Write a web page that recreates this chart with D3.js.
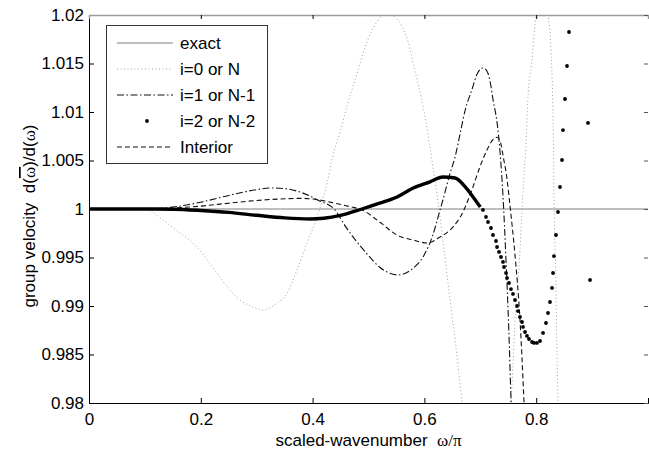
<!DOCTYPE html>
<html><head><meta charset="utf-8">
<script src="https://cdn.jsdelivr.net/npm/d3@7/dist/d3.min.js"></script>
<style>
body{margin:0;background:#fff}
svg{display:block}
text{font-family:"Liberation Sans",Arial,Helvetica,sans-serif;fill:#000}
.sym{font-family:"Liberation Serif","Times New Roman",serif}
.ovl{text-decoration:overline}
</style>
</head><body>
<svg id="chart" width="649" height="455"></svg>
<script>
// ---- data ----
const xTickValues = [0, 0.2, 0.4, 0.6, 0.8, 1];
const xTickLabels = ["0", "0.2", "0.4", "0.6", "0.8", ""];
const yTickValues = [0.98, 0.985, 0.99, 0.995, 1, 1.005, 1.01, 1.015, 1.02];
const yTickLabels = ["0.98", "0.985", "0.99", "0.995", "1", "1.005", "1.01", "1.015", "1.02"];
const legendLabels = ["exact", "i=0 or N", "i=1 or N-1", "i=2 or N-2", "Interior"];

const exactSeries = [[0, 1], [1, 1]];

const i0Series = [[0,1],[0.05,1],[0.09,0.99998],[0.11,0.9998],[0.127,0.9991],[0.163,0.9975],[0.193,0.9961],[0.216,0.9944],[0.247,0.9920],[0.270,0.9906],[0.293,0.9899],[0.311,0.98959],[0.336,0.9903],[0.354,0.9913],[0.372,0.9937],[0.390,0.9965],[0.408,0.9992],[0.426,1.0027],[0.436,1.0054],[0.449,1.0079],[0.462,1.0107],[0.478,1.0137],[0.494,1.0167],[0.515,1.0193],[0.535,1.0202],[0.547,1.0198],[0.560,1.0188],[0.571,1.0172],[0.583,1.0143],[0.594,1.0116],[0.603,1.0089],[0.610,1.0063],[0.624,1.0009],[0.635,0.9958],[0.646,0.9906],[0.657,0.9855],[0.667,0.9803],[0.68,0.975],[0.72,0.965],[0.75,0.975],[0.755,0.980],[0.7585,0.9841],[0.762,0.9882],[0.771,0.9958],[0.776,1.0014],[0.782,1.0071],[0.785,1.0112],[0.7925,1.0154],[0.798,1.0192],[0.803,1.0203],[0.812,1.0215],[0.821,1.0200],[0.8265,1.0164],[0.8295,1.0112],[0.8310,1.0061],[0.832,1.0009],[0.835,0.9927],[0.837,0.9858],[0.839,0.9800],[0.842,0.975]];

const i1Series = [[0,1],[0.1,1],[0.15,1.0002],[0.2,1.0007],[0.25,1.0014],[0.3,1.0020],[0.325,1.00217],[0.35,1.0021],[0.38,1.0017],[0.41,1.0009],[0.44,0.9999],[0.46,0.9981],[0.485,0.9962],[0.50,0.9952],[0.52,0.9940],[0.553,0.9932],[0.58,0.9939],[0.598,0.9951],[0.615,0.9973],[0.628,0.9999],[0.633,1.0009],[0.646,1.0037],[0.655,1.0054],[0.664,1.0078],[0.673,1.0102],[0.685,1.0123],[0.695,1.0140],[0.705,1.01454],[0.712,1.0142],[0.717,1.0133],[0.723,1.0112],[0.730,1.0089],[0.735,1.0061],[0.741,1.0009],[0.746,0.9947],[0.751,0.9875],[0.755,0.9803],[0.758,0.976]];

const interiorSeries = [[0,1],[0.1,1],[0.15,1.0001],[0.2,1.0003],[0.25,1.0006],[0.3,1.00088],[0.35,1.00105],[0.38,1.0011],[0.41,1.00095],[0.44,1.0006],[0.47,1.0002],[0.485,1.0],[0.52,0.99866],[0.551,0.99732],[0.58,0.9968],[0.605,0.9965],[0.628,0.99711],[0.651,0.99814],[0.669,0.99969],[0.678,1.0009],[0.687,1.0023],[0.699,1.0043],[0.712,1.0061],[0.722,1.0071],[0.730,1.0074],[0.736,1.0069],[0.741,1.0054],[0.748,1.0030],[0.753,1.0004],[0.762,0.9953],[0.771,0.9886],[0.778,0.9803],[0.781,0.976]];

// i=2 : densely sampled part (drawn as a heavy dotted trace)
const i2Dense = [[0,1],[0.05,1],[0.1,1],[0.15,0.99998],[0.2,0.99985],[0.25,0.99965],[0.3,0.99935],[0.35,0.99908],[0.395,0.99897],[0.42,0.99905],[0.45,0.99935],[0.488,1.0],[0.52,1.0006],[0.551,1.00124],[0.58,1.00216],[0.61,1.0028],[0.633,1.0033],[0.655,1.0032],[0.673,1.00227],[0.687,1.00124],[0.70,1.0002]];
// i=2 : individually visible samples
const i2Dots = [[0.7048,0.99990],[0.7102,0.99918],[0.7138,0.99866],[0.7191,0.99804],[0.7227,0.99732],[0.7281,0.99670],[0.7299,0.99608],[0.7335,0.99557],[0.7370,0.99505],[0.7406,0.99454],[0.7424,0.99402],[0.7460,0.99340],[0.7478,0.99289],[0.7513,0.99237],[0.7549,0.99175],[0.7585,0.99124],[0.7621,0.99062],[0.7657,0.99000],[0.7674,0.98948],[0.7710,0.98887],[0.7746,0.98835],[0.7764,0.98784],[0.7800,0.98732],[0.7835,0.98691],[0.7871,0.98660],[0.7925,0.98629],[0.7961,0.98619],[0.8014,0.98619],[0.8068,0.98639],[0.8122,0.98722],[0.8175,0.98825],[0.8211,0.98928],[0.8247,0.99041],[0.8283,0.99186],[0.8301,0.99340],[0.8318,0.99515],[0.8354,0.99732],[0.8390,0.99969],[0.8426,1.00227],[0.8462,1.00505],[0.8479,1.00814],[0.8515,1.01134],[0.8551,1.01474],[0.8587,1.01825],[0.8927,1.00887],[0.8963,0.99268]];

// ---- layout ----
const svg = d3.select("#chart");
const L = 89, R = 648, T = 15, B = 403;
const x = d3.scaleLinear().domain([0, 1]).range([L, R]);
const y = d3.scaleLinear().domain([0.98, 1.02]).range([B, T]);
const FS = 17;

svg.append("defs").append("clipPath").attr("id", "clip")
  .append("rect").attr("x", L).attr("y", T).attr("width", R - L).attr("height", B - T);

const plot = svg.append("g").attr("clip-path", "url(#clip)");
const line = d3.line().x(d => x(d[0])).y(d => y(d[1])).curve(d3.curveMonotoneX);

const styles = {
  exact:    {stroke: "#7f7f7f", width: 1, dash: null},
  i0:       {stroke: "#a0a0a0", width: 1, dash: "1,2.5"},
  i1:       {stroke: "#111", width: 1.1, dash: "7,2.5,1.5,2.5"},
  interior: {stroke: "#111", width: 1.1, dash: "5,3"}
};

function drawLine(data, st) {
  plot.append("path").datum(data).attr("d", line)
    .attr("fill", "none").attr("stroke", st.stroke).attr("stroke-width", st.width)
    .attr("stroke-dasharray", st.dash);
}
drawLine(exactSeries, styles.exact);
drawLine(i0Series, styles.i0);
drawLine(i1Series, styles.i1);
drawLine(interiorSeries, styles.interior);

plot.append("path").datum(i2Dense).attr("d", line)
  .attr("fill", "none").attr("stroke", "#000").attr("stroke-width", 3.4);
plot.selectAll("circle.i2").data(i2Dots).join("circle").attr("class", "i2")
  .attr("cx", d => x(d[0])).attr("cy", d => y(d[1])).attr("r", 1.9).attr("fill", "#000");

// ---- axes ----
const xAxis = d3.axisBottom(x).tickValues(xTickValues)
  .tickFormat((d, i) => xTickLabels[i]).tickSize(-5).tickPadding(10);
const gx = svg.append("g").attr("transform", `translate(0,${B})`).call(xAxis);
gx.select(".domain").attr("stroke", "#000");
gx.selectAll(".tick line").attr("stroke", "#000");
gx.selectAll("text").attr("font-size", FS).attr("font-family", null);

const yAxis = d3.axisLeft(y).tickValues(yTickValues)
  .tickFormat((d, i) => yTickLabels[i]).tickSize(-5).tickPadding(5);
const gy = svg.append("g").attr("transform", `translate(${L},0)`).call(yAxis);
gy.select(".domain").attr("stroke", "#000");
gy.selectAll(".tick line").attr("stroke", "#000");
gy.selectAll("text").attr("font-size", FS).attr("font-family", null);

// top & right (box)
const xTop = d3.axisTop(x).tickValues(xTickValues.slice(1, 5)).tickFormat("").tickSize(-4);
const gt = svg.append("g").attr("transform", `translate(0,${T})`).call(xTop);
gt.select(".domain").attr("stroke", "#9a9a9a").attr("stroke-width", 1.5);
gt.selectAll(".tick line").attr("stroke", "#000");
const yRight = d3.axisRight(y).tickValues(yTickValues).tickFormat("").tickSize(-4);
const gr = svg.append("g").attr("transform", `translate(${R},0)`).call(yRight);
gr.select(".domain").attr("stroke", "none");
gr.selectAll(".tick line").attr("stroke", "#555");

// axis titles
const xt = svg.append("text").attr("x", (L + R) / 2).attr("y", 446).attr("text-anchor", "middle")
  .attr("font-size", FS);
xt.append("tspan").text("scaled-wavenumber\u00A0\u00A0");
xt.append("tspan").attr("class", "sym").text("\u03C9/\u03C0");

const yt = svg.append("text").attr("transform", "rotate(-90)").attr("x", -216).attr("y", 35)
  .attr("text-anchor", "middle").attr("font-size", FS);
yt.append("tspan").text("group velocity\u00A0\u00A0d(");
yt.append("tspan").attr("class", "sym ovl").text("\u03C9");
yt.append("tspan").text(")/d(");
yt.append("tspan").attr("class", "sym").text("\u03C9");
yt.append("tspan").text(")");

// ---- legend ----
const lg = svg.append("g");
lg.append("rect").attr("x", 106.5).attr("y", 25.5).attr("width", 161).attr("height", 138)
  .attr("fill", "#fff").attr("stroke", "#333").attr("stroke-width", 1);
const rowY = d3.scalePoint().domain(legendLabels).range([43, 147]);
const legendStyles = [styles.exact, styles.i0, styles.i1, null, styles.interior];
legendLabels.forEach((lab, i) => {
  const yy = rowY(lab);
  const st = legendStyles[i];
  if (st) {
    lg.append("line").attr("x1", 117).attr("x2", 173).attr("y1", yy).attr("y2", yy)
      .attr("stroke", st.stroke).attr("stroke-width", st.width).attr("stroke-dasharray", st.dash);
  } else {
    lg.append("circle").attr("cx", 147).attr("cy", yy).attr("r", 1.9).attr("fill", "#000");
  }
  lg.append("text").attr("x", 180).attr("y", yy).attr("dy", "0.36em")
    .attr("font-size", FS).text(lab);
});
</script>
</body></html>
